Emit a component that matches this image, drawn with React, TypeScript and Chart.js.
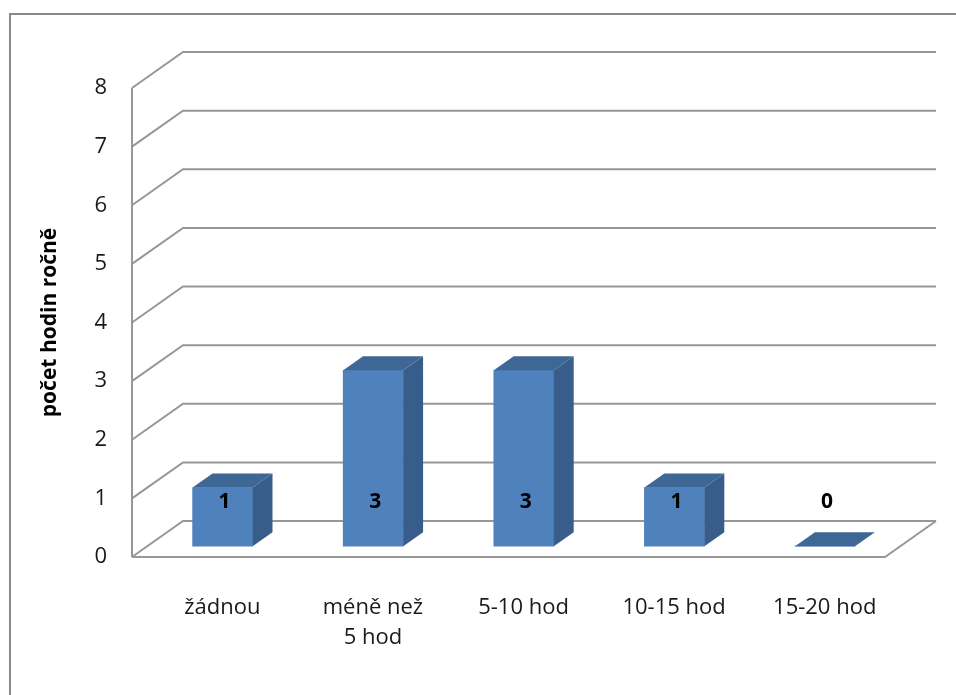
import React, { useEffect, useRef } from 'react';
import { Chart, registerables } from 'chart.js';

Chart.register(...registerables);

const categories: string[][] = [['žádnou'], ['méně než', '5 hod'], ['5-10 hod'], ['10-15 hod'], ['15-20 hod']];
const values: number[] = [1, 3, 3, 1, 0];
const yMin = 0;
const yMax = 8;
const yStep = 1;
const yTitle = 'počet hodin ročně';

// 3D projection constants (style only)
const DX = 51;
const DY = -36;
const BAR_FRONT = 0.3;
const BAR_BACK = 0.69;
const LABEL_AT = 0.75;

const FRONT = '#4F81BD';
const SIDE = '#385D8A';
const TOP = '#3F6796';
const GRID = '#979797';

const threeD = {
  id: 'threeD',
  beforeDraw(chart: any) {
    const { ctx, chartArea: a, scales } = chart;
    const y = scales.y;
    ctx.save();
    ctx.strokeStyle = '#8a8a8a';
    ctx.lineWidth = 2;
    ctx.strokeRect(10, 14, 2000, 2000);
    ctx.strokeStyle = GRID;
    ctx.lineWidth = 2;
    y.ticks.forEach((t: any) => {
      const py = y.getPixelForValue(t.value);
      ctx.beginPath();
      ctx.moveTo(a.left, py);
      ctx.lineTo(a.left + DX, py + DY);
      ctx.lineTo(a.right + DX, py + DY);
      ctx.stroke();
    });
    const p0 = y.getPixelForValue(yMin);
    ctx.beginPath();
    ctx.moveTo(a.right + DX, p0 + DY);
    ctx.lineTo(a.right, p0);
    ctx.lineTo(a.left, p0);
    ctx.stroke();
    ctx.beginPath();
    ctx.moveTo(a.left, y.getPixelForValue(yMax));
    ctx.lineTo(a.left, p0);
    ctx.stroke();
    ctx.restore();
  },
  beforeDatasetsDraw(chart: any) {
    chart.ctx.save();
    chart.ctx.translate(BAR_FRONT * DX, BAR_FRONT * DY);
  },
  afterDatasetsDraw(chart: any) {
    const { ctx, scales } = chart;
    const y = scales.y;
    const meta = chart.getDatasetMeta(0);
    const dx = (BAR_BACK - BAR_FRONT) * DX;
    const dy = (BAR_BACK - BAR_FRONT) * DY;
    meta.data.forEach((el: any, i: number) => {
      const { x, y: top, base, width } = el.getProps(['x', 'y', 'base', 'width'], true);
      const l = x - width / 2;
      const r = x + width / 2;
      if (base - top > 0.5) {
        ctx.fillStyle = SIDE;
        ctx.beginPath();
        ctx.moveTo(r, top);
        ctx.lineTo(r + dx, top + dy);
        ctx.lineTo(r + dx, base + dy);
        ctx.lineTo(r, base);
        ctx.closePath();
        ctx.fill();
      }
      ctx.fillStyle = TOP;
      ctx.beginPath();
      ctx.moveTo(l, top);
      ctx.lineTo(l + dx, top + dy);
      ctx.lineTo(r + dx, top + dy);
      ctx.lineTo(r, top);
      ctx.closePath();
      ctx.fill();
      ctx.fillStyle = '#000';
      ctx.font = 'bold 21px "Open Sans"';
      ctx.textAlign = 'center';
      ctx.textBaseline = 'middle';
      ctx.fillText(String(values[i]), x + 2, y.getPixelForValue(LABEL_AT));
    });
    ctx.restore();
  },
};

export default function App() {
  const ref = useRef<HTMLCanvasElement | null>(null);
  useEffect(() => {
    if (!ref.current) return;
    const chart = new Chart(ref.current, {
      type: 'bar',
      data: {
        labels: categories as any,
        datasets: [
          {
            data: values,
            backgroundColor: FRONT,
            borderWidth: 0,
            barThickness: 60,
            clip: false as any,
          },
        ],
      },
      options: {
        animation: false,
        responsive: false,
        maintainAspectRatio: false,
        layout: { padding: { left: 0, top: 88, right: 71, bottom: 0 } },
        plugins: { legend: { display: false }, tooltip: { enabled: false } },
        scales: {
          x: {
            grid: { display: false, drawTicks: false },
            border: { display: false },
            ticks: {
              color: '#1a1a1a',
              font: { family: 'Open Sans', size: 22, lineHeight: 1.36 },
              padding: 36,
              labelOffset: 15,
              maxRotation: 0,
              autoSkip: false,
            },
            afterFit: (s: any) => {
              s.height = 138;
            },
          },
          y: {
            min: yMin,
            max: yMax,
            grid: { display: false, drawTicks: false },
            border: { display: false },
            ticks: {
              stepSize: yStep,
              padding: 25,
              color: '#1a1a1a',
              font: { family: 'Open Sans', size: 22 },
            },
            title: {
              display: true,
              text: yTitle,
              color: '#000',
              font: { family: 'Open Sans', size: 21, weight: 'bold' },
              padding: { top: 37, bottom: 0 },
            },
            afterFit: (s: any) => {
              s.width = 132;
            },
          },
        },
      },
      plugins: [threeD],
    });
    return () => chart.destroy();
  }, []);
  return (
    <div style={{ position: 'fixed', left: 0, top: 0, width: 956, height: 695, background: '#fff' }}>
      <canvas ref={ref} width={956} height={695} style={{ display: 'block' }} />
    </div>
  );
}
